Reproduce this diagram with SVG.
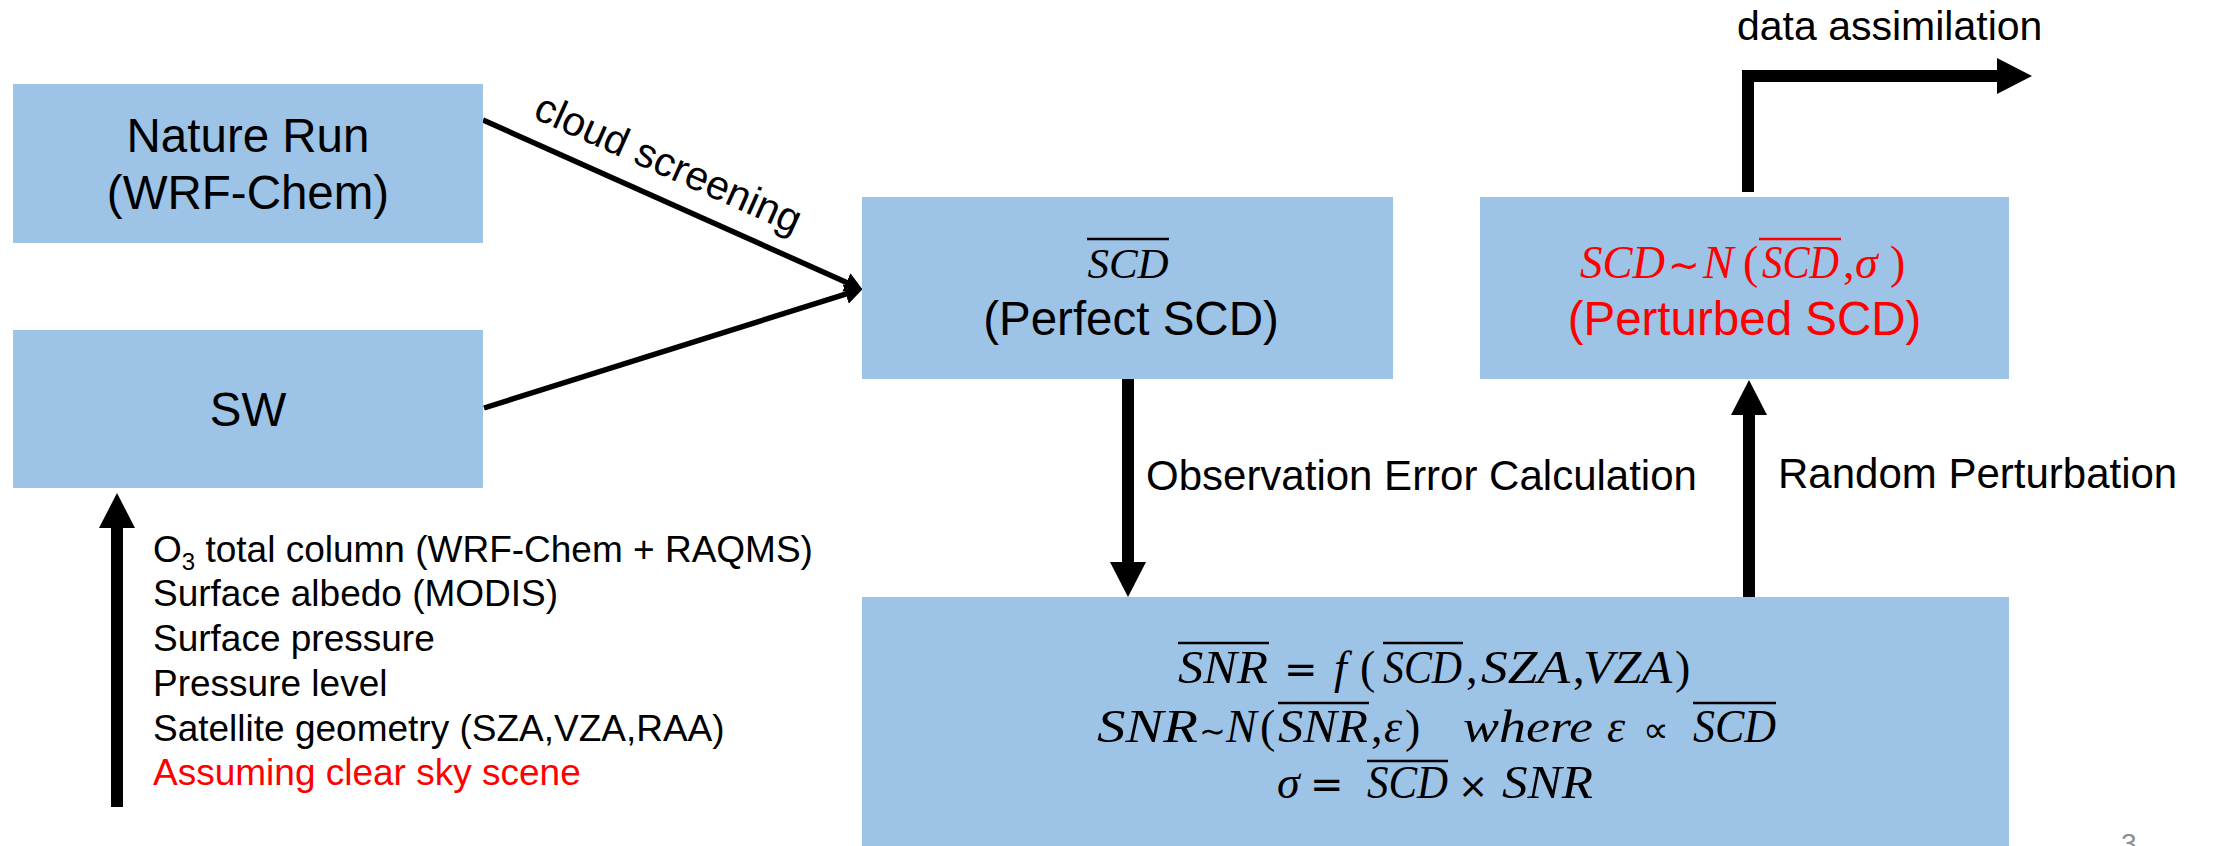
<svg xmlns="http://www.w3.org/2000/svg" width="2213" height="846" viewBox="0 0 2213 846">
<style>
.box{fill:#9DC3E6}
.t{font-family:"Liberation Sans",Arial,sans-serif;fill:#000}
.big{font-size:47.5px}
.lab{font-size:42px}
.list{font-size:37px}
.red{fill:#FF0000}
.m{font-family:"Liberation Serif","DejaVu Serif",serif;font-style:italic}
.op{font-family:"DejaVu Sans",sans-serif;font-style:normal}
.up{font-style:normal}
.bar{stroke-width:2.5}
.thin{fill:none;stroke:#000;stroke-width:5.5;marker-end:url(#hs)}
.thick{fill:none;stroke:#000;stroke-width:12;stroke-linejoin:miter;marker-end:url(#hb)}
</style>
<defs>
<marker id="hs" markerUnits="userSpaceOnUse" markerWidth="18" markerHeight="20" viewBox="0 0 18 20" refX="4" refY="10" orient="auto"><path d="M0,0 L18,10 L0,20 z" fill="#000"/></marker>
<marker id="hb" markerUnits="userSpaceOnUse" markerWidth="36" markerHeight="36" viewBox="0 0 36 36" refX="6" refY="18" orient="auto"><path d="M0,0 L35,18 L0,36 z" fill="#000"/></marker>
</defs>
<rect width="2213" height="846" fill="#fff"/>

<g id="connectors">
<line class="thin" x1="483" y1="120" x2="850" y2="284"/>
<line class="thin" x1="484" y1="408" x2="849.6" y2="292.9"/>
<line class="thick" x1="117" y1="807" x2="117" y2="522"/>
<line class="thick" x1="1128" y1="379" x2="1128" y2="568"/>
<line class="thick" x1="1749" y1="597" x2="1749" y2="409"/>
<path class="thick" d="M1748,192 V76 H2003"/>
<text class="t" font-size="41" text-anchor="middle" transform="rotate(24 663 176)" x="663" y="176">cloud screening</text>
<text class="t lab" x="1146" y="490">Observation Error Calculation</text>
<text class="t lab" x="1778" y="488">Random Perturbation</text>
<text class="t" font-size="41" x="1737" y="40">data assimilation</text>
</g>

<g id="nature-run">
<rect class="box" x="13" y="84" width="470" height="159"/>
<text class="t big" text-anchor="middle" x="248" y="152">Nature Run</text>
<text class="t big" text-anchor="middle" x="248" y="209">(WRF-Chem)</text>
</g>

<g id="sw">
<rect class="box" x="13" y="330" width="470" height="158"/>
<text class="t big" text-anchor="middle" x="248" y="426">SW</text>
</g>

<g id="inputs">
<text class="t list" x="153" y="562">O<tspan font-size="24" dy="8">3</tspan><tspan dy="-8"> total column (WRF-Chem + RAQMS)</tspan></text>
<text class="t list" x="153" y="606">Surface albedo (MODIS)</text>
<text class="t list" x="153" y="651">Surface pressure</text>
<text class="t list" x="153" y="696">Pressure level</text>
<text class="t list" x="153" y="741">Satellite geometry (SZA,VZA,RAA)</text>
<text class="t list red" x="153" y="785">Assuming clear sky scene</text>
</g>

<g id="perfect-scd">
<rect class="box" x="862" y="197" width="531" height="182"/>
<text class="m" font-size="43" text-anchor="middle" x="1128" y="278">SCD</text>
<line class="bar" stroke="#000" x1="1087" y1="239" x2="1169" y2="239"/>
<text class="t big" text-anchor="middle" x="1131" y="335">(Perfect SCD)</text>
</g>

<g id="perturbed-scd">
<rect class="box" x="1480" y="197" width="529" height="182"/>
<text class="m red" font-size="46" y="278"><tspan x="1580" textLength="85" lengthAdjust="spacingAndGlyphs">SCD</tspan><tspan class="op" font-size="38" x="1668">∼</tspan><tspan x="1703">N</tspan><tspan class="up" x="1743">(</tspan><tspan x="1762" textLength="77" lengthAdjust="spacingAndGlyphs">SCD</tspan><tspan class="up" x="1843">,</tspan><tspan x="1855">σ</tspan><tspan class="up" x="1890">)</tspan></text>
<line class="bar" stroke="#FF0000" x1="1759" y1="239" x2="1841" y2="239"/>
<text class="t big red" text-anchor="middle" x="1744.5" y="335">(Perturbed SCD)</text>
</g>

<g id="error-calc">
<rect class="box" x="862" y="597" width="1147" height="249"/>
<text class="m" font-size="46" y="683"><tspan x="1178" textLength="90" lengthAdjust="spacingAndGlyphs">SNR</tspan><tspan class="op" font-size="40" x="1284">=</tspan><tspan x="1334">f</tspan><tspan class="up" x="1360">(</tspan><tspan x="1383" textLength="79" lengthAdjust="spacingAndGlyphs">SCD</tspan><tspan class="up" x="1466">,</tspan><tspan x="1481" textLength="89" lengthAdjust="spacingAndGlyphs">SZA</tspan><tspan class="up" x="1573">,</tspan><tspan x="1583" textLength="89" lengthAdjust="spacingAndGlyphs">VZA</tspan><tspan class="up" x="1675">)</tspan></text>
<line class="bar" stroke="#000" x1="1178" y1="643" x2="1269" y2="643"/>
<line class="bar" stroke="#000" x1="1383" y1="643" x2="1463" y2="643"/>
<text class="m" font-size="46" y="742"><tspan x="1097" textLength="101" lengthAdjust="spacingAndGlyphs">SNR</tspan><tspan class="op" font-size="32" x="1199">∼</tspan><tspan x="1226">N</tspan><tspan class="up" x="1260">(</tspan><tspan x="1278" textLength="90" lengthAdjust="spacingAndGlyphs">SNR</tspan><tspan class="up" x="1371">,</tspan><tspan x="1384">ε</tspan><tspan class="up" x="1405">)</tspan><tspan x="1463" textLength="130" lengthAdjust="spacingAndGlyphs">where</tspan><tspan x="1607">ε</tspan><tspan class="op" font-size="36" x="1643">∝</tspan><tspan x="1693" textLength="83" lengthAdjust="spacingAndGlyphs">SCD</tspan></text>
<line class="bar" stroke="#000" x1="1278" y1="703" x2="1369" y2="703"/>
<line class="bar" stroke="#000" x1="1693" y1="703" x2="1776" y2="703"/>
<text class="m" font-size="46" y="798"><tspan x="1277">σ</tspan><tspan class="op" font-size="40" x="1310">=</tspan><tspan x="1367" textLength="81" lengthAdjust="spacingAndGlyphs">SCD</tspan><tspan class="op" font-size="36" x="1458">×</tspan><tspan x="1502" textLength="91" lengthAdjust="spacingAndGlyphs">SNR</tspan></text>
<line class="bar" stroke="#000" x1="1367" y1="761" x2="1448" y2="761"/>
</g>

<text font-family="Liberation Sans,Arial,sans-serif" font-size="28" fill="#8C8C8C" x="2121" y="853">3</text>
</svg>
